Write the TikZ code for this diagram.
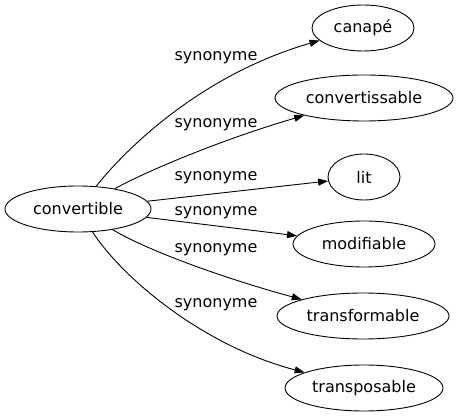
\documentclass[tikz,border=0pt]{standalone}
\usepackage{fontspec}
\setmainfont{DejaVu Sans}
\usetikzlibrary{shapes.geometric,arrows.meta}
\begin{document}
\begin{tikzpicture}[x=1pt,y=-1pt,
  word/.style={draw,ellipse,inner sep=0pt,line width=0.9pt,font=\fontsize{16}{18}\selectfont},
  lab/.style={inner sep=0pt,font=\fontsize{16}{18}\selectfont},
  link/.style={line width=0.9pt,-{Triangle[length=10pt,width=7pt]}}]
\useasboundingbox (0,0) rectangle (457,419);
\node[word,minimum width=146pt,minimum height=46pt] (cv) at (78,209) {convertible};
\node[word,minimum width=102pt,minimum height=46pt] (ca) at (363,28) {canapé};
\node[word,minimum width=178pt,minimum height=46pt] (cs) at (364,98) {convertissable};
\node[word,minimum width=72pt,minimum height=46pt] (li) at (364,177) {lit};
\node[word,minimum width=142pt,minimum height=46pt] (mo) at (364,244) {modifiable};
\node[word,minimum width=172pt,minimum height=46pt] (tf) at (363,316) {transformable};
\node[word,minimum width=158pt,minimum height=46pt] (tp) at (364,388) {transposable};
\node[lab] (l1) at (216,58) {synonyme};
\node[lab] (l2) at (216,125) {synonyme};
\node[lab] (l3) at (216,178) {synonyme};
\node[lab] (l4) at (216,213) {synonyme};
\node[lab] (l5) at (216,250) {synonyme};
\node[lab] (l6) at (216,305) {synonyme};
\draw[link] (cv) .. controls (125,150) and (200,75) .. (ca);
\draw[link] (cv) .. controls (145,172) and (220,140) .. (cs);
\draw[link] (cv) -- (li);
\draw[link] (cv) -- (mo);
\draw[link] (cv) .. controls (150,252) and (230,280) .. (tf);
\draw[link] (cv) .. controls (120,275) and (200,345) .. (tp);
\end{tikzpicture}
\end{document}
